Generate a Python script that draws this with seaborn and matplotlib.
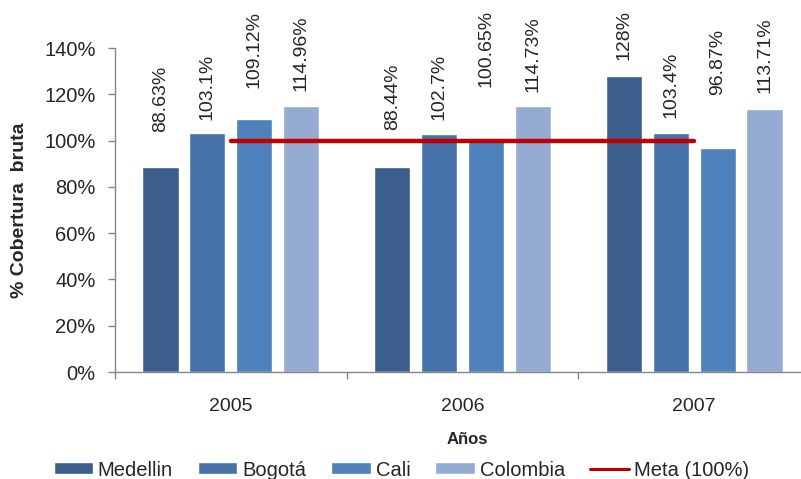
import numpy as np
import pandas as pd
import matplotlib
matplotlib.use("Agg")
import matplotlib.pyplot as plt
import seaborn as sns

years = ["2005", "2006", "2007"]
cities = ["Medellin", "Bogotá", "Cali", "Colombia"]
medellin = [88.63, 88.44, 128.0]
bogota = [103.1, 102.7, 103.4]
cali = [109.12, 100.65, 96.87]
colombia = [114.96, 114.73, 113.71]
label_text = [["88.63%", "88.44%", "128%"],
              ["103.1%", "102.7%", "103.4%"],
              ["109.12%", "100.65%", "96.87%"],
              ["114.96%", "114.73%", "113.71%"]]
meta = [100, 100, 100]
yticks = [0, 20, 40, 60, 80, 100, 120, 140]

# styling: how far above each bar its label starts (in % units)
label_lift = [[15.1, 16.2, 6.8],
              [5.8, 6.2, 6.4],
              [13.6, 22.5, 22.8],
              [6.4, 6.3, 6.9]]

sns.set_style("white")
plt.rcParams["font.family"] = ["Liberation Sans", "DejaVu Sans"]

df = pd.DataFrame({
    "year": years * 4,
    "city": [c for c in cities for _ in years],
    "value": medellin + bogota + cali + colombia,
})

colors = ["#3B5E8C", "#4572A8", "#4F81BD", "#95ABD1"]

fig = plt.figure(figsize=(8.01, 4.79), dpi=100)
ax = fig.add_axes([115 / 801, 107 / 479, 695 / 801, 324 / 479])

sns.barplot(data=df, x="year", y="value", hue="city", hue_order=cities,
            order=years, palette=colors, saturation=1, width=0.81, gap=0.23,
            edgecolor="white", linewidth=1, ax=ax, legend=True)

sns.lineplot(x=np.arange(len(years)), y=meta, color="#C00000", linewidth=3.2,
             ax=ax, label="Meta (100%)", legend=False)

for i, cont in enumerate(ax.containers):
    for j, bar in enumerate(cont):
        xc = bar.get_x() + bar.get_width() / 2
        ax.text(xc, bar.get_height() + label_lift[i][j], label_text[i][j],
                rotation=90, ha="center", va="bottom", fontsize=14,
                clip_on=False)

ax.set_xlim(-0.5, 2.5)
ax.set_ylim(0, 140)
ax.set_yticks(yticks)
ax.set_yticklabels([f"{t}%" for t in yticks], fontsize=14.5)
ax.tick_params(axis="y", length=5, width=1, color="#868686", pad=9, left=True)
ax.set_xticks(range(len(years)))
ax.set_xticklabels(years, fontsize=14)
ax.tick_params(axis="x", which="major", length=0, pad=19)
ax.set_xticks([-0.5, 0.5, 1.5], minor=True)
ax.tick_params(axis="x", which="minor", length=5, width=1, color="#868686",
               bottom=True)
for s in ["top", "right"]:
    ax.spines[s].set_visible(False)
for s in ["left", "bottom"]:
    ax.spines[s].set_color("#868686")
    ax.spines[s].set_linewidth(1)

ax.set_xlabel("")
ax.set_ylabel("% Cobertura  bruta", fontsize=14, fontweight="bold")
ax.yaxis.set_label_coords(-0.125, 0.5)

fig.text(467 / 801, 1 - 440 / 479, "Años", ha="center", va="center",
         fontsize=12, fontweight="bold")

handles, labels = ax.get_legend_handles_labels()
ax.get_legend().remove()
leg = fig.legend(handles, labels, loc="center", ncol=5,
                 bbox_to_anchor=(401.5 / 801, 1 - 470 / 479), frameon=False,
                 fontsize=14.5, handlelength=1.94, handleheight=0.55,
                 handletextpad=0.25, columnspacing=1.25, borderaxespad=0,
                 borderpad=0)
for ln in leg.get_lines():
    ln.set_linewidth(2.2)

fig.savefig("out.png", dpi=100)
